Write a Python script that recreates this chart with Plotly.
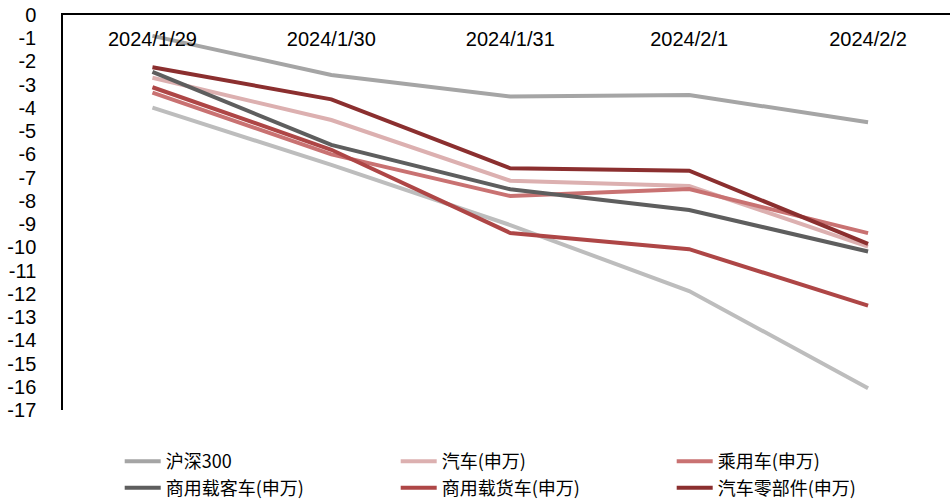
import plotly.graph_objects as go

dates = ["2024/1/29", "2024/1/30", "2024/1/31", "2024/2/1", "2024/2/2"]

hs300 = [-0.9, -2.58, -3.51, -3.44, -4.62]
qiche = [-2.7, -4.52, -7.13, -7.36, -9.97]
chengyongche = [-3.34, -6.0, -7.79, -7.49, -9.39]
keche = [-2.45, -5.59, -7.5, -8.39, -10.18]
huoche = [-3.11, -5.8, -9.38, -10.08, -12.51]
lingbujian = [-2.25, -3.63, -6.6, -6.7, -9.85]
extra_line = [-3.99, -6.45, -9.04, -11.88, -16.06]

y_ticks = list(range(0, -18, -1))

series = [
    ("extra", extra_line, "#bdbdbd", False),
    ("沪深300", hs300, "#a5a5a5", True),
    ("汽车(申万)", qiche, "#dcb0b0", True),
    ("乘用车(申万)", chengyongche, "#c97272", True),
    ("商用载客车(申万)", keche, "#5e5e5e", True),
    ("商用载货车(申万)", huoche, "#ae4646", True),
    ("汽车零部件(申万)", lingbujian, "#8b2f2f", True),
]

fig = go.Figure()
for name, vals, color, show in series:
    fig.add_trace(go.Scatter(
        x=dates, y=vals, mode="lines", name=name, showlegend=show,
        line=dict(color=color, width=4),
    ))

# invisible trace carrying the date labels on an overlaid axis just below the top line
fig.add_trace(go.Scatter(
    x=dates, y=[None] * len(dates), xaxis="x2", mode="lines",
    showlegend=False, hoverinfo="skip",
))

order = ["沪深300", "汽车(申万)", "乘用车(申万)", "商用载客车(申万)", "商用载货车(申万)", "汽车零部件(申万)"]
for tr in fig.data:
    if tr.name in order:
        tr.legendrank = order.index(tr.name) + 1

fig.update_layout(
    width=950, height=499,
    margin=dict(l=63, r=0, t=15, b=89),
    plot_bgcolor="white", paper_bgcolor="white",
    font=dict(family="Liberation Sans, Arial", color="black"),
    showlegend=True,
    legend=dict(
        orientation="h", xref="container", yref="container",
        x=0.126, y=0.112, xanchor="left", yanchor="top",
        entrywidth=225, entrywidthmode="pixels",
        font=dict(family="Noto Sans CJK SC", size=18, color="black"),
        itemwidth=36, tracegroupgap=0,
    ),
    xaxis=dict(
        type="category", side="top", range=[-0.5, 4.458],
        showline=True, linecolor="black", linewidth=1.5,
        ticks="", showgrid=False, showticklabels=False, zeroline=False,
    ),
    xaxis2=dict(
        type="category", overlaying="x", anchor="free", position=0.975,
        side="bottom", range=[-0.5, 4.458],
        showline=False, ticks="", showgrid=False, zeroline=False,
        tickfont=dict(size=20),
    ),
    yaxis=dict(
        range=[-17, 0], tickvals=y_ticks, ticktext=[str(v) for v in y_ticks],
        showline=True, linecolor="black", linewidth=1.5,
        ticks="", showgrid=False, zeroline=False,
        tickfont=dict(size=20), ticklabelstandoff=21,
    ),
)

fig.write_html("out.html")
